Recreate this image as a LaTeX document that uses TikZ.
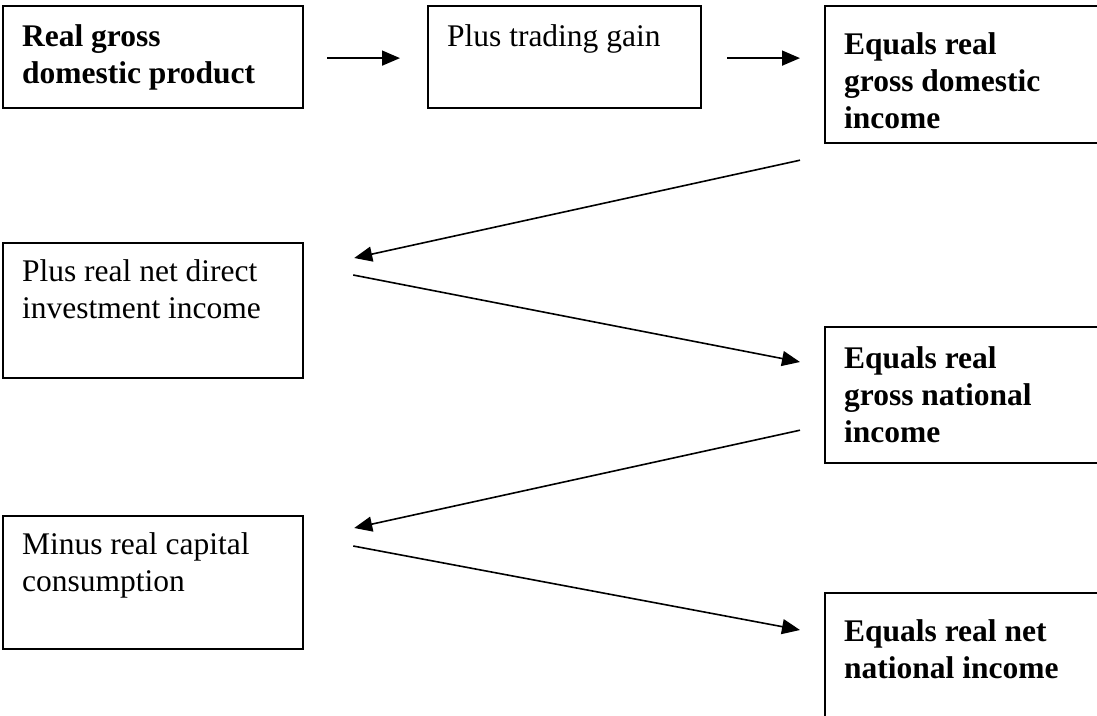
\documentclass[tikz,border=0pt]{standalone}
\usepackage{fontspec}
\setmainfont{Liberation Serif}
\usetikzlibrary{arrows.meta,calc}
\newcommand{\stagetext}[4]{\parbox[t][#2][t]{#1}{\vspace*{#3}\leftskip=19pt\relax #4\par}}
\tikzstyle{stage}=[
	draw=black,
	line width=2.2pt,
	anchor=north west,
	inner sep=0pt,
	font=\fontsize{31.5}{37}\selectfont
]
\tikzstyle{result}=[stage, font=\fontsize{31.5}{37}\selectfont\bfseries]
\tikzstyle{flow} = [draw,line width=1.6pt,-{Triangle[length=18pt,width=15pt]}]

\begin{document}
\begin{tikzpicture}[x=1pt,y=-1pt]

				\useasboundingbox (0,0) rectangle (1097,715);
				\clip (0,0) rectangle (1097,715);

				\node[result]	(gdp)	at (2,5)	{\stagetext{300pt}{102pt}{18.5pt}{Real gross\\domestic product}};
				\node[stage]	(gain)	at (427,5)	{\stagetext{273pt}{102pt}{18.5pt}{Plus trading gain}};
				\node[result]	(gdi)	at (824,5)	{\stagetext{300pt}{137pt}{26.5pt}{Equals real\\gross domestic\\income}};
				\node[stage]	(invest)	at (2,242)	{\stagetext{300pt}{135pt}{16.5pt}{Plus real net direct\\investment income}};
				\node[result]	(gni)	at (824,326)	{\stagetext{300pt}{136pt}{19.5pt}{Equals real\\gross national\\income}};
				\node[stage]	(cap)	at (2,515)	{\stagetext{300pt}{133pt}{16.5pt}{Minus real capital\\consumption}};
				\node[result]	(net)	at (824,592)	{\stagetext{300pt}{160pt}{26.5pt}{Equals real net\\national income}};

				\path
				($(gdp.east)+(23,1)$) edge[flow] node {} ($(gdp.east -| gain.west)+(-27,1)$)
				($(gain.east)+(25,1)$) edge[flow] node {} ($(gain.east -| gdi.west)+(-24,1)$)
				($(gdi.south west)+(-24,16)$) edge[flow] node {} ($(invest.north east)+(50,16)$)
				($(invest.north east)+(49,33)$) edge[flow] node {} ($(gni.north west)+(-24,36)$)
				($(gni.south west)+(-24,-34)$) edge[flow] node {} ($(cap.north east)+(50,13)$)
				($(cap.north east)+(49,31)$) edge[flow] node {} ($(net.north west)+(-24,38)$);

\end{tikzpicture}
\end{document}
